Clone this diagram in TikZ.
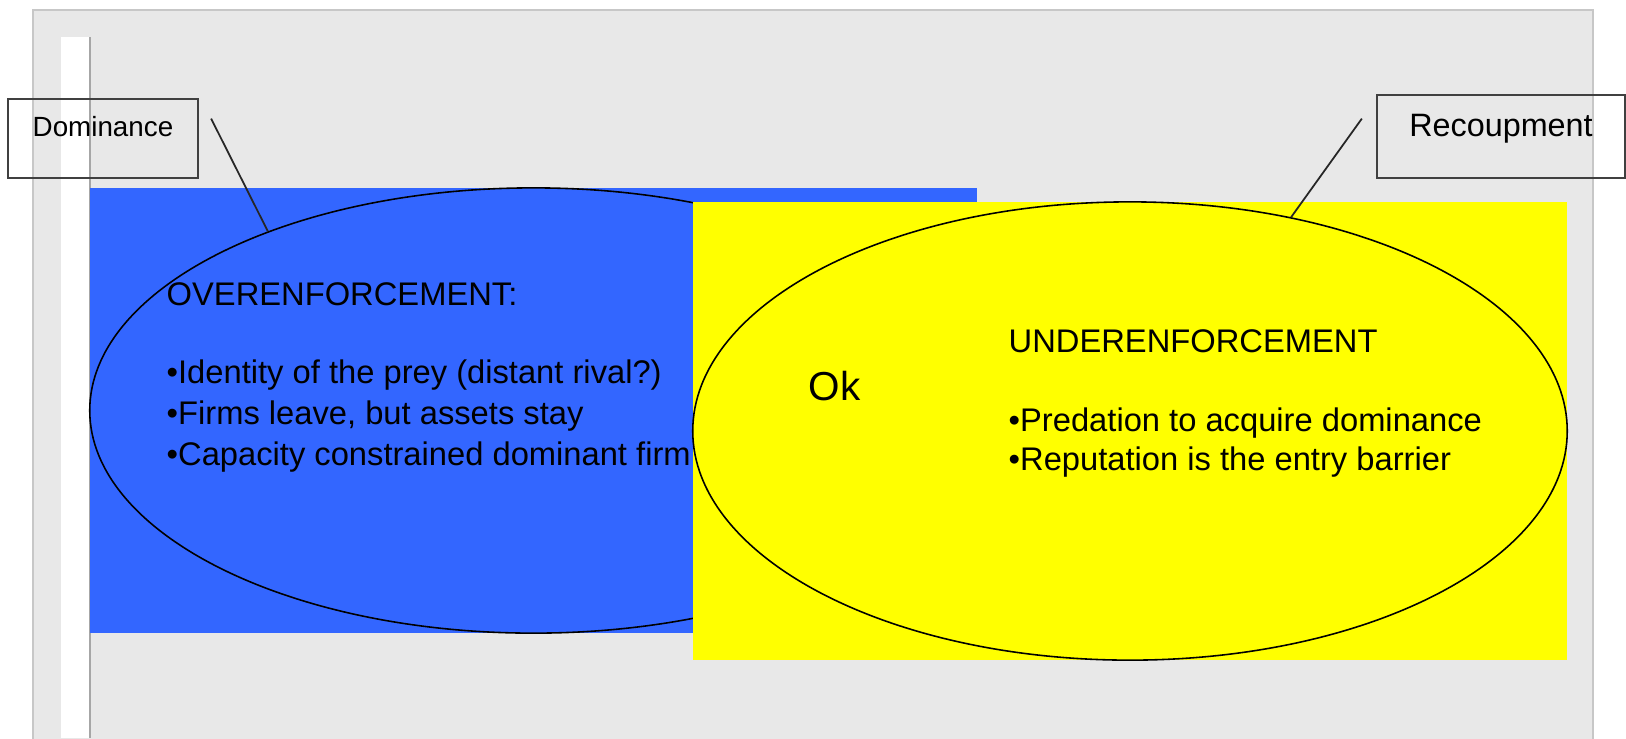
\documentclass[tikz,border=0pt]{standalone}
\usepackage{fontspec}
\setmainfont{Liberation Sans}
\usetikzlibrary{shapes.geometric}
\definecolor{slidegray}{HTML}{E8E8E8}
\definecolor{overblue}{HTML}{3366FF}
\definecolor{underyellow}{HTML}{FFFF00}

\begin{document}
\begin{tikzpicture}[
  x=0.01cm,
  y=-0.01cm,
  font=\fontsize{9.3}{11}\selectfont,
  oval/.style={ellipse, draw=black, line width=0.45pt, inner sep=0pt},
  tagbox/.style={draw=black!75, line width=0.6pt, inner sep=0pt},
  tagline/.style={black!85, line width=0.5pt},
  bodytext/.style={anchor=base west, inner sep=0pt},
]
  \useasboundingbox (0,0) rectangle (1626,738);

  % slide
  \fill[white] (0,0) rectangle (1626,738);
  \draw[fill=slidegray, draw=black!22] (33,10) rectangle (1593,745);
  \fill[white] (61,37) rectangle (90,738);
  \draw[black!35] (90,37) -- (90,738);

  % Dominance
  \fill[overblue] (90,188) rectangle (977,633);
  \node[oval, fill=overblue, minimum width=8.87cm, minimum height=4.45cm] (domoval) at (533.5,410.5) {};
  \node[bodytext] (over) at (166,305) {OVERENFORCEMENT:};
  \node[bodytext] (overa) at (166,383) {•Identity of the prey (distant rival?)};
  \node[bodytext] (overb) at (166,424) {•Firms leave, but assets stay};
  \node[bodytext] (overc) at (166,465) {•Capacity constrained dominant firm};

  % Recoupment
  \fill[underyellow] (693,202) rectangle (1567,660);
  \node[oval, fill=underyellow, minimum width=8.74cm, minimum height=4.58cm] (recoval) at (1130,431) {};
  \node[bodytext, font=\fontsize{11.5}{14}\selectfont] (ok) at (808,400) {Ok};
  \node[bodytext] (under) at (1008,352) {UNDERENFORCEMENT};
  \node[bodytext] (undera) at (1008,431) {•Predation to acquire dominance};
  \node[bodytext] (underb) at (1008,470) {•Reputation is the entry barrier};

  % tags
  \node[tagbox, anchor=north, minimum width=1.90cm, text height=0.37cm, text depth=0.42cm,
        font=\fontsize{7.9}{9}\selectfont] (dom) at (103,98) {Dominance};
  \node[tagbox, anchor=north, minimum width=2.48cm, text height=0.41cm, text depth=0.42cm,
        font=\fontsize{9.2}{11}\selectfont] (rec) at (1501,94) {Recoupment};

  \coordinate (domtail) at ([shift={(12,-20)}]dom.east);
  \coordinate (rectail) at ([shift={(-14,-18)}]rec.west);
  \draw[tagline] (domtail) -- (domoval.146.6);
  \draw[tagline] (rectail) -- (recoval.53.7);
\end{tikzpicture}
\end{document}
